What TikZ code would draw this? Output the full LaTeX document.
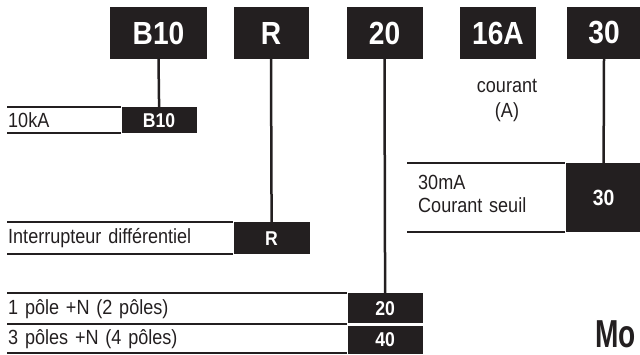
\documentclass[tikz,border=0pt]{standalone}
\usepackage{fontspec}
\setmainfont{Liberation Sans}
\newfontfamily\condfont[FakeStretch=0.88]{Liberation Sans}
\newfontfamily\narrowfont[FakeStretch=0.72]{Liberation Sans}
\usepackage{tikz}
\usetikzlibrary{positioning}
\definecolor{tagblack}{RGB}{35,31,32}

\begin{document}
\begin{tikzpicture}[
        x=1pt, y=-1pt,
        node distance=0pt,
        head/.style={rectangle, fill=tagblack, text=white, font=\condfont\fontsize{32}{34}\selectfont\bfseries, minimum height=52pt, inner sep=0pt},
        tag/.style={rectangle, fill=tagblack, text=white, font=\condfont\fontsize{20}{22}\selectfont\bfseries, inner sep=0pt},
        rowlab/.style={rectangle, inner xsep=1pt, inner ysep=0pt, align=left, font=\condfont\fontsize{20.5}{23}\selectfont, text=tagblack, anchor=north west},
        rule/.style={draw=tagblack, line width=2pt},
        link/.style={draw=tagblack, line width=2.5pt}
    ]
    \useasboundingbox (0,0) rectangle (640,354);

    % en-tetes
    \node[head, minimum width=97pt] (hdB) at (158.5,33) {B10};
    \node[head, minimum width=75pt] (hdR) at (271,33) {R};
    \node[head, minimum width=76pt] (hd20) at (384.5,33) {20};
    \node[head, minimum width=76pt] (hd16) at (498,33) {16A};
    \node[head, minimum width=74pt] (hd30) at (604,33) {30};

    \node[font=\condfont\fontsize{20.5}{25}\selectfont, text=tagblack, align=center] (cour) at (507,100) {courant\\(A)};

    % pouvoir de coupure
    \node[rowlab, text width=112pt, minimum height=26pt] (labB) at (7,107) {10kA};
    \node[tag, minimum width=75pt, minimum height=26pt, right=of labB] (tagB) {B10};

    % type
    \node[rowlab, text width=224pt, minimum height=32pt] (labR) at (7,222) {Interrupteur différentiel};
    \node[tag, minimum width=76pt, minimum height=32pt, right=of labR] (tagR) {R};

    % poles
    \node[rowlab, text width=338pt, minimum height=31pt] (lab20) at (7,293) {1 pôle +N (2 pôles)};
    \node[rowlab, text width=338pt, minimum height=29pt] (lab40) at (7,324) {3 pôles +N (4 pôles)};
    \node[tag, minimum width=75pt, minimum height=30pt, anchor=north west] (tag20) at (lab20.north east) {20};
    \node[tag, minimum width=75pt, minimum height=28pt, anchor=north west] (tag40) at ([yshift=-1.5pt]lab40.north east) {40};

    % sensibilite
    \node[rowlab, inner xsep=11pt, text width=136pt, text depth=31pt, minimum height=69pt] (lab30) at (407,163) {30mA\\Courant seuil};
    \node[tag, minimum width=76pt, minimum height=69pt, font=\condfont\fontsize{22}{24}\selectfont\bfseries, right=of lab30] (tag30) {30};

    \node[font=\narrowfont\fontsize{39}{40}\selectfont\bfseries, text=tagblack, anchor=base west, inner sep=0pt] (mo) at (595,347) {Mo};

    % traits
    \path[rule] (labB.north west) -- (tagB.north west);
    \path[rule] (labB.south west) -- (tagB.south west);
    \path[rule] (labR.north west) -- (tagR.north west);
    \path[rule] (labR.south west) -- (tagR.south west);
    \path[rule] (lab20.north west) -- (tag20.north west);
    \path[rule] (lab20.south west) -- (lab20.south east);
    \path[rule] (lab40.south west) -- (lab40.south east);
    \path[rule] (lab30.north west) -- (tag30.north west);
    \path[rule] (lab30.south west) -- (tag30.south west);

    % liaisons
    \path[link] (hdB.south) -- (tagB.north);
    \path[link] (hdR.south) -- (tagR.north);
    \path[link] (hd20.south) -- (tag20.north);
    \path[link] (hd30.south) -- (tag30.north);
\end{tikzpicture}
\end{document}
